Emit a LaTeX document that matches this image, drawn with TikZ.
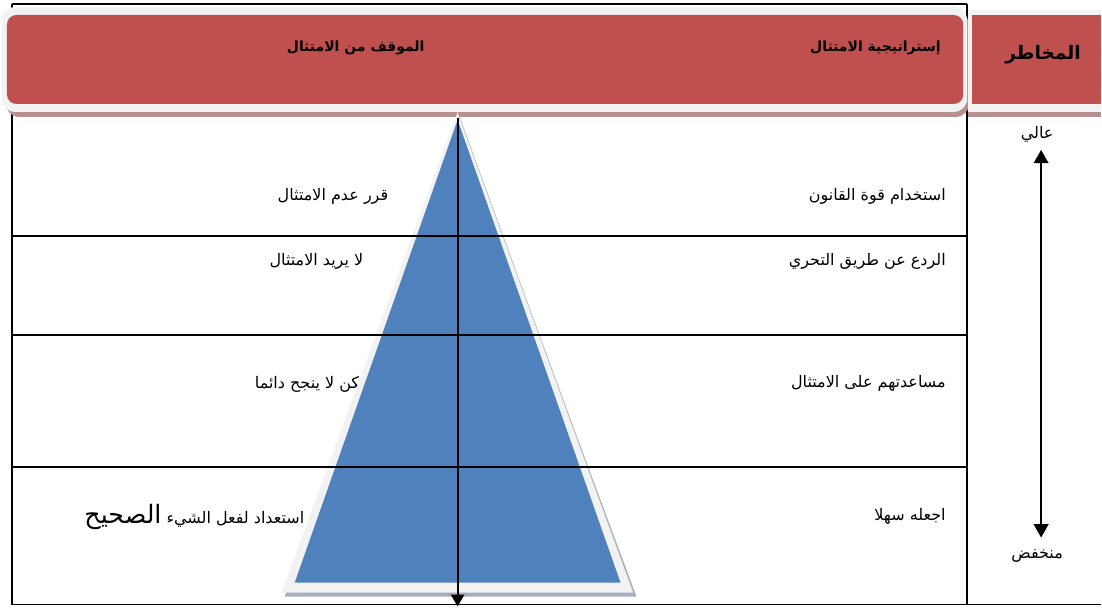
\documentclass[tikz,border=0pt]{standalone}
\usepackage{fontspec}
\usepackage{tikz}
\usetikzlibrary{arrows.meta}
\newfontfamily\arabicfont[Script=Arabic]{DejaVu Sans}
\TeXXeTstate=1
\definecolor{hdrred}{RGB}{192,80,77}
\definecolor{hdrrim}{RGB}{242,242,242}
\definecolor{hdrshadow}{RGB}{183,145,144}
\definecolor{pyrblue}{RGB}{79,129,189}
\definecolor{pyrshadow}{RGB}{163,174,192}
\tikzset{every picture/.style={line width=0.75pt}}
\tikzset{
  arlabel/.style={inner sep=0.75pt, font=\arabicfont\fontsize{12}{14}\selectfont},
  arhead/.style={inner sep=0.75pt, font=\arabicfont\bfseries\fontsize{10.5}{13}\selectfont},
  gridline/.style={line width=1.4pt},
}
\newcommand{\artext}[1]{\beginR #1\endR}

\begin{document}
\begin{tikzpicture}[x=0.75pt,y=0.75pt,yscale=-1,xscale=1]
\path [fill=white] (0,0) rectangle (1102,608);

%Table frame
\draw [gridline] (12,4) -- (968,4) ;
\draw [gridline] (12,4) -- (12,605) ;
\draw [gridline] (968,4) -- (968,605) ;
\draw [gridline] (12,605) -- (1102,605) ;

%Shape: Rounded Rect (header)
\fill [hdrshadow, rounded corners=10pt] (6,12) rectangle (970,117) ;
\fill [hdrrim, rounded corners=10pt] (2,7) rectangle (968,112) ;
\fill [hdrred, rounded corners=7pt] (7,15) rectangle (964,104) ;
%Shape: Rect (risk header)
\fill [hdrshadow] (969,12) rectangle (1102,117) ;
\fill [hdrrim] (969,10) rectangle (1102,112) ;
\fill [hdrred] (973,15) rectangle (1102,104) ;

% Text Node
\node [arlabel, anchor=east] (tryfail) at (367,385) {\artext{لكن لا ينجح دائما}};

%Shape: Triangle (pyramid)
\fill [pyrshadow] (458,116) -- (285,597) -- (637,597) -- cycle ;
\fill [hdrrim] (458,112) -- (282,593) -- (634,593) -- cycle ;
\draw [gray!60, line width=0.4pt] (458,112) -- (634,593) ;
\fill [pyrblue] (458,120) -- (295,583) -- (621,583) -- cycle ;

%Row lines
\draw [gridline] (12,236) -- (968,236) ;
\draw [gridline] (12,335) -- (968,335) ;
\draw [gridline] (12,467) -- (968,467) ;

%Straight Lines (axis)
\coordinate (apex) at (458,118) ;
\coordinate (base) at (458,607) ;
\draw [line width=1.5pt, -{Triangle[length=9pt,width=10pt]}] (apex) -- (base) ;
\coordinate (high) at (1042,150) ;
\coordinate (low) at (1042,538) ;
\draw [line width=1.2pt, {Triangle[length=10pt,width=11pt]}-{Triangle[length=10pt,width=11pt]}] (high) -- (low) ;

% Text Node
\node [arhead] (attitude) at (356,48) {\artext{الموقف من الامتثال}};
% Text Node
\node [arhead, anchor=east] (strategy) at (943,48) {\artext{إستراتيجية الامتثال}};
% Text Node
\node [arhead, font=\arabicfont\bfseries\fontsize{14}{16}\selectfont] (risk) at (1044,55) {\artext{المخاطر}};
% Text Node
\node [arlabel] (riskhigh) at (1038,134) {\artext{عالي}};
% Text Node
\node [arlabel] (risklow) at (1038,556) {\artext{منخفض}};

% Text Node
\node [arlabel, anchor=east] (lawforce) at (948,197) {\artext{استخدام قوة القانون}};
% Text Node
\node [arlabel, anchor=east] (deter) at (948,262) {\artext{الردع عن طريق التحري}};
% Text Node
\node [arlabel, anchor=east] (assist) at (948,384) {\artext{مساعدتهم على الامتثال}};
% Text Node
\node [arlabel, anchor=east] (easy) at (948,517) {\artext{اجعله سهلا}};

% Text Node
\node [arlabel, anchor=east] (decided) at (390,197) {\artext{قرر عدم الامتثال}};
% Text Node
\node [arlabel, anchor=east] (unwilling) at (365,262) {\artext{لا يريد الامتثال}};
% Text Node
\node [arlabel, anchor=east] (ready) at (306,517) {\artext{استعداد لفعل الشيء {\fontsize{19}{21}\selectfont الصحيح}}};

\end{tikzpicture}
\end{document}
